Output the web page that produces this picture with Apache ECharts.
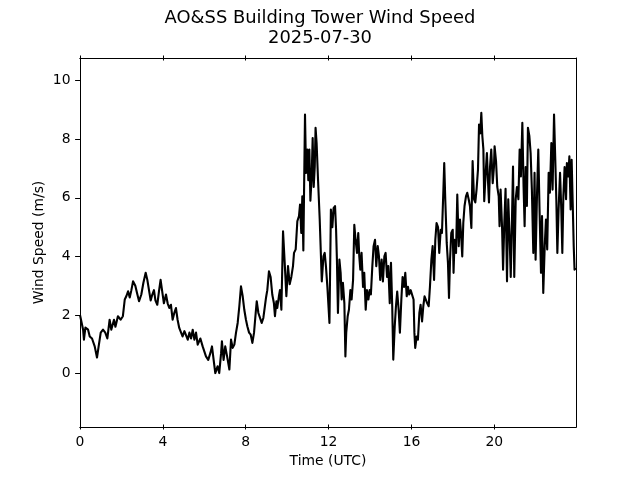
<!DOCTYPE html>
<html>
<head>
<meta charset="utf-8">
<script src="https://cdn.jsdelivr.net/npm/echarts@6/dist/echarts.min.js"></script>
<style>
html,body{margin:0;padding:0;background:#fff;}
#chart{width:640px;height:480px;}
</style>
</head>
<body>
<div id="chart"></div>
<script>
// Time in hours (UTC)
const hours = [
0.0,0.15,0.19,0.26,0.39,0.47,0.58,0.71,0.82,0.9,1.0,1.11,1.22,1.32,1.43,1.51,1.64,1.71,1.83,1.96,
2.07,2.16,2.24,2.32,2.4,2.48,2.56,2.67,2.77,2.85,2.96,3.06,3.17,3.25,3.33,3.41,3.49,3.57,3.64,3.73,
3.81,3.89,3.99,4.05,4.15,4.23,4.31,4.39,4.47,4.55,4.63,4.71,4.79,4.87,4.95,5.04,5.12,5.2,5.28,5.36,
5.44,5.52,5.6,5.68,5.81,5.92,6.0,6.08,6.19,6.29,6.37,6.45,6.53,6.64,6.72,6.81,6.85,6.93,7.01,7.1,
7.21,7.29,7.37,7.45,7.53,7.61,7.69,7.77,7.85,7.93,8.01,8.08,8.16,8.24,8.32,8.4,8.48,8.53,8.61,8.69,
8.77,8.85,8.93,8.98,9.04,9.12,9.2,9.28,9.36,9.41,9.48,9.52,9.6,9.65,9.72,9.8,9.88,9.96,10.04,10.12,
10.2,10.28,10.33,10.41,10.49,10.57,10.62,10.68,10.73,10.78,10.81,10.86,10.91,10.97,11.02,11.07,11.12,11.18,11.23,11.28,
11.33,11.37,11.42,11.49,11.57,11.67,11.75,11.81,11.87,11.94,12.04,12.11,12.18,12.24,12.31,12.36,12.4,12.45,12.52,12.58,
12.63,12.69,12.76,12.81,12.85,12.92,12.98,13.05,13.11,13.18,13.24,13.3,13.37,13.43,13.48,13.53,13.59,13.66,13.72,13.79,
13.85,13.92,13.98,14.04,14.11,14.17,14.24,14.3,14.37,14.43,14.49,14.56,14.62,14.69,14.75,14.82,14.88,14.95,15.01,15.07,
15.12,15.19,15.25,15.31,15.38,15.44,15.51,15.57,15.64,15.7,15.77,15.83,15.89,15.96,16.02,16.1,16.14,16.18,16.25,16.31,
16.38,16.44,16.51,16.57,16.63,16.7,16.76,16.83,16.89,16.96,17.02,17.09,17.15,17.21,17.28,17.34,17.41,17.47,17.54,17.58,
17.63,17.7,17.76,17.81,17.86,17.92,17.99,18.03,18.08,18.15,18.21,18.28,18.34,18.39,18.45,18.5,18.56,18.63,18.69,18.76,
18.82,18.89,18.95,19.02,19.08,19.14,19.21,19.26,19.32,19.37,19.42,19.47,19.51,19.58,19.64,19.69,19.74,19.79,19.85,19.92,
19.98,20.01,20.08,20.14,20.21,20.25,20.3,20.37,20.42,20.48,20.54,20.61,20.67,20.74,20.79,20.85,20.9,20.96,21.03,21.09,
21.16,21.22,21.28,21.35,21.41,21.46,21.51,21.57,21.62,21.69,21.75,21.81,21.88,21.94,21.99,22.06,22.12,22.18,22.25,22.3,
22.36,22.43,22.49,22.55,22.62,22.68,22.75,22.81,22.88,22.94,22.99,23.04,23.1,23.17,23.23,23.28,23.33,23.39,23.46,23.5,
23.57,23.62,23.68,23.73,23.78,23.83,23.87,23.94
];
// Wind speed (m/s)
const speed = [
2.0,1.5,1.16,1.57,1.5,1.27,1.2,0.93,0.55,0.93,1.4,1.5,1.4,1.2,1.84,1.5,1.84,1.6,1.96,1.84,
1.96,2.53,2.65,2.81,2.6,2.85,3.15,3.0,2.7,2.47,2.7,3.1,3.44,3.2,2.85,2.5,2.7,2.85,2.5,2.35,
2.8,3.2,2.7,2.4,2.7,2.4,2.24,2.35,1.84,2.07,2.24,1.84,1.56,1.6,1.27,1.45,1.5,1.16,1.4,1.2,
1.5,1.16,1.4,0.99,1.2,0.93,0.99,0.59,0.47,0.7,0.93,0.47,0.02,0.25,0.02,0.7,1.1,0.47,0.93,0.59,
0.14,1.16,0.88,0.99,1.4,1.73,2.3,2.98,2.65,2.18,1.84,1.61,1.4,1.33,1.05,1.4,2.07,2.47,2.07,2.1,
1.73,1.9,1.96,2.6,2.85,3.49,3.3,2.7,2.4,1.96,2.47,2.24,2.64,2.85,2.18,4.86,3.78,2.64,3.67,3.05,
3.3,3.67,4.12,4.24,5.2,5.38,5.77,4.8,6.05,4.2,5.95,8.84,6.85,7.65,6.6,7.65,5.9,6.7,8.04,6.37,
7.05,8.39,7.87,6.6,5.26,3.15,4.0,4.12,3.67,2.96,1.73,5.6,5.0,5.65,5.72,4.91,3.89,2.07,3.89,3.44,
2.53,3.1,2.4,0.59,1.4,1.96,2.18,2.85,2.53,3.2,5.08,4.57,4.12,4.8,4.0,3.55,4.12,2.96,3.44,2.18,
2.85,2.53,2.85,2.7,3.67,4.35,4.57,3.67,4.35,4.0,3.2,3.89,3.15,4.0,4.12,3.3,3.67,2.4,3.78,2.3,
0.48,1.6,2.3,2.8,2.18,1.4,2.53,3.3,2.96,3.44,2.64,2.96,2.7,2.85,2.9,2.53,1.4,0.88,1.27,1.16,
2.07,2.35,1.78,2.3,2.64,2.7,2.4,2.3,2.96,3.89,4.35,3.2,4.57,5.14,5.0,4.12,4.91,4.8,6.28,7.19,
5.95,4.46,3.78,2.58,3.89,4.8,4.91,3.44,4.57,4.12,6.11,4.35,5.26,4.8,4.0,5.14,5.72,6.05,6.17,5.95,
5.72,4.97,7.25,5.95,5.84,6.28,6.97,8.5,8.2,8.9,8.1,7.65,5.88,6.85,7.53,6.6,5.84,7.05,7.65,6.5,
7.05,7.76,7.25,6.37,6.05,5.03,6.28,5.03,3.55,5.14,6.31,3.15,5.95,4.57,3.3,5.26,7.07,3.3,5.95,6.37,
5.95,7.65,6.73,8.56,6.37,5.03,7.05,5.72,8.39,8.1,7.53,6.28,4.12,6.85,3.89,6.17,7.65,5.6,3.44,5.38,
2.75,4.35,5.26,4.24,6.85,6.17,7.87,6.28,8.84,7.3,5.95,4.12,5.6,6.85,5.6,4.12,6.05,7.05,5.95,7.19,
6.73,7.42,5.6,7.3,5.84,4.35,3.55,3.6
];
const xTicks = [0, 4, 8, 12, 16, 20];
const yTicks = [0, 2, 4, 6, 8, 10];
const titleText = 'AO&SS Building Tower Wind Speed';
const subtitleText = '2025-07-30';
const xLabel = 'Time (UTC)';
const yLabel = 'Wind Speed (m/s)';

const X_MIN = 0, X_MAX = 23.94, Y_MIN = -1.82, Y_MAX = 10.77;
const FONT = 'DejaVu Sans';
const lineStyle = {color: '#000', width: 1};

const data = hours.map((h, i) => [h, speed[i]]);

function xAx(pos, inside, withLabel) {
  return {
    type: 'value', position: pos, min: X_MIN, max: X_MAX,
    axisLine: {show: true, onZero: false, lineStyle: lineStyle},
    axisTick: {show: true, inside: inside, length: 2.5, customValues: xTicks, lineStyle: lineStyle},
    axisLabel: {show: withLabel, customValues: xTicks, margin: 8, color: '#000', fontSize: 13.9, fontFamily: FONT},
    splitLine: {show: false},
    name: withLabel ? xLabel : '',
    nameLocation: 'middle', nameGap: 27, nameMoveOverlap: false,
    nameTextStyle: {color: '#000', fontSize: 13.9, fontFamily: FONT}
  };
}

const titleStyle = {color: '#000', fontSize: 17.9, fontWeight: 'normal', fontFamily: FONT, lineHeight: 20};

const chart = echarts.init(document.getElementById('chart'), null, {renderer: 'canvas'});
chart.setOption({
  animation: false,
  backgroundColor: '#fff',
  title: [
    {text: titleText, left: 'center', top: 8, padding: 0, textStyle: titleStyle},
    {text: subtitleText, left: 'center', top: 28, padding: 0, textStyle: titleStyle}
  ],
  grid: {left: 80, right: 64, top: 58, bottom: 53, containLabel: false},
  xAxis: [
    xAx('bottom', false, true),
    xAx('bottom', true, false),
    xAx('top', true, false),
    xAx('top', false, false)
  ],
  yAxis: [
    {
      type: 'value', position: 'left', min: Y_MIN, max: Y_MAX,
      axisLine: {show: true, onZero: false, lineStyle: lineStyle},
      axisTick: {show: true, inside: false, length: 4.9, customValues: yTicks, lineStyle: lineStyle},
      axisLabel: {customValues: yTicks, margin: 9.5, color: '#000', fontSize: 13.9, fontFamily: FONT},
      splitLine: {show: false},
      name: yLabel, nameLocation: 'middle', nameGap: 34, nameRotate: 90, nameMoveOverlap: false,
      nameTextStyle: {color: '#000', fontSize: 13.9, fontFamily: FONT}
    },
    {
      type: 'value', position: 'right', min: Y_MIN, max: Y_MAX,
      axisLine: {show: true, onZero: false, lineStyle: lineStyle},
      axisTick: {show: false}, axisLabel: {show: false}, splitLine: {show: false}
    }
  ],
  series: [{
    type: 'line',
    data: data,
    xAxisIndex: 0, yAxisIndex: 0,
    showSymbol: false, symbol: 'none',
    lineStyle: {color: '#000', width: 2.1, join: 'round'},
    clip: true
  }]
});
</script>
</body>
</html>
